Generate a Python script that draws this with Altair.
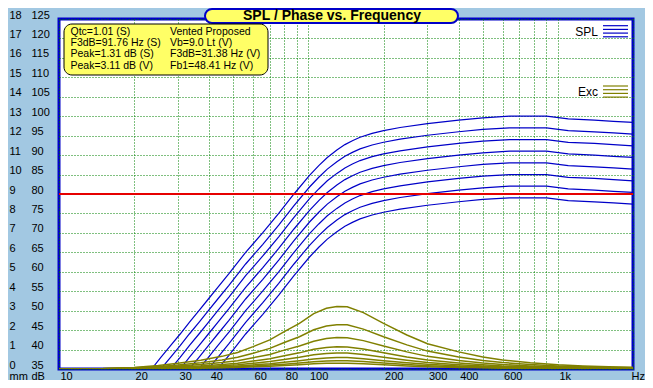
import altair as alt
import pandas as pd

# ---------------- data ----------------
SPL_FREQ = [23.5, 25.6, 28, 30.6, 33.3, 36.4, 39.7, 43.3, 48, 56, 65.5, 76, 87.5, 101, 110,
            119, 130, 140, 150, 161, 180, 200, 233, 300, 400, 500, 640, 900, 1100, 1400, 1670, 2000]
SPL_1 = [35, 38, 41, 44, 47, 50, 53, 56, 59.5, 65, 70, 75, 80, 84.8, 87.3, 89.4, 91.3, 92.7, 93.7, 94.6, 95.6, 96.3, 97.1, 98.1, 99, 99.6, 100, 100, 99.3, 99, 98.7, 98.4]
SPL_2 = [None, 35, 38, 41, 44, 47, 50, 53, 56.5, 62, 67, 72, 77, 81.8, 84.3, 86.4, 88.3, 89.7, 90.7, 91.6, 92.6, 93.3, 94.1, 95.1, 96, 96.6, 97, 97, 96.3, 96, 95.7, 95.4]
SPL_3 = [None, None, 35, 38, 41, 44, 47, 50, 53.5, 59, 64, 69, 74, 78.8, 81.3, 83.4, 85.3, 86.7, 87.7, 88.6, 89.6, 90.3, 91.1, 92.1, 93, 93.6, 94, 94, 93.3, 93, 92.7, 92.4]
SPL_4 = [None, None, None, 35, 38, 41, 44, 47, 50.5, 56, 61, 66, 71, 75.8, 78.3, 80.4, 82.3, 83.7, 84.7, 85.6, 86.6, 87.3, 88.1, 89.1, 90, 90.6, 91, 91, 90.3, 90, 89.7, 89.4]
SPL_5 = [None, None, None, None, 35, 38, 41, 44, 47.5, 53, 58, 63, 68, 72.8, 75.3, 77.4, 79.3, 80.7, 81.7, 82.6, 83.6, 84.3, 85.1, 86.1, 87, 87.6, 88, 88, 87.3, 87, 86.7, 86.4]
SPL_6 = [None, None, None, None, None, 35, 38, 41, 44.5, 50, 55, 60, 65, 69.8, 72.3, 74.4, 76.3, 77.7, 78.7, 79.6, 80.6, 81.3, 82.1, 83.1, 84, 84.6, 85, 85, 84.3, 84, 83.7, 83.4]
SPL_7 = [None, None, None, None, None, None, 35, 38, 41.5, 47, 52, 57, 62, 66.8, 69.3, 71.4, 73.3, 74.7, 75.7, 76.6, 77.6, 78.3, 79.1, 80.1, 81, 81.6, 82, 82, 81.3, 81, 80.7, 80.4]
SPL_8 = [None, None, None, None, None, None, None, 35, 38.5, 44, 49, 54, 59, 63.8, 66.3, 68.4, 70.3, 71.7, 72.7, 73.6, 74.6, 75.3, 76.1, 77.1, 78, 78.6, 79, 79, 78.3, 78, 77.7, 77.4]
SPL_CURVES = [SPL_1, SPL_2, SPL_3, SPL_4, SPL_5, SPL_6, SPL_7, SPL_8]

EXC_FREQ = [10, 15, 20, 25, 30, 37, 45, 52, 60, 70, 80, 92, 105, 118, 130, 143, 166,
            200, 248, 300, 400, 500, 600, 775, 1000, 1260, 1600, 2000]
EXC_1 = [0.0, 0.02, 0.08, 0.18, 0.30, 0.45, 0.65, 0.85, 1.15, 1.5, 1.92, 2.35, 2.85, 3.12, 3.22, 3.2, 2.9, 2.35, 1.75, 1.3, 0.88, 0.62, 0.46, 0.32, 0.22, 0.16, 0.12, 0.09]
EXC_2 = [0.0, 0.01, 0.06, 0.13, 0.21, 0.32, 0.46, 0.60, 0.81, 1.06, 1.36, 1.66, 2.02, 2.21, 2.28, 2.27, 2.05, 1.66, 1.24, 0.92, 0.62, 0.44, 0.33, 0.23, 0.16, 0.11, 0.08, 0.06]
EXC_3 = [0.0, 0.01, 0.04, 0.09, 0.15, 0.23, 0.33, 0.43, 0.58, 0.75, 0.97, 1.18, 1.43, 1.57, 1.62, 1.61, 1.46, 1.18, 0.88, 0.65, 0.44, 0.31, 0.23, 0.16, 0.11, 0.08, 0.06, 0.05]
EXC_4 = [0.0, 0.01, 0.03, 0.06, 0.11, 0.16, 0.23, 0.30, 0.41, 0.53, 0.68, 0.83, 1.01, 1.10, 1.14, 1.13, 1.03, 0.83, 0.62, 0.46, 0.31, 0.22, 0.16, 0.11, 0.08, 0.06, 0.04, 0.03]
EXC_5 = [0.0, 0.01, 0.02, 0.05, 0.08, 0.11, 0.17, 0.22, 0.29, 0.38, 0.49, 0.60, 0.73, 0.80, 0.82, 0.82, 0.74, 0.60, 0.45, 0.33, 0.22, 0.16, 0.12, 0.08, 0.06, 0.04, 0.03, 0.02]
EXC_6 = [0.0, 0.0, 0.01, 0.03, 0.05, 0.08, 0.12, 0.16, 0.21, 0.27, 0.35, 0.43, 0.52, 0.57, 0.59, 0.59, 0.53, 0.43, 0.32, 0.24, 0.16, 0.11, 0.08, 0.06, 0.04, 0.03, 0.02, 0.02]
EXC_7 = [0.0, 0.0, 0.01, 0.02, 0.04, 0.06, 0.08, 0.11, 0.15, 0.20, 0.25, 0.31, 0.37, 0.41, 0.42, 0.42, 0.38, 0.31, 0.23, 0.17, 0.11, 0.08, 0.06, 0.04, 0.03, 0.02, 0.02, 0.01]
EXC_8 = [0.0, 0.0, 0.01, 0.02, 0.03, 0.04, 0.06, 0.08, 0.11, 0.14, 0.18, 0.22, 0.27, 0.29, 0.30, 0.30, 0.27, 0.22, 0.16, 0.12, 0.08, 0.06, 0.04, 0.03, 0.02, 0.01, 0.01, 0.01]
EXC_CURVES = [EXC_1, EXC_2, EXC_3, EXC_4, EXC_5, EXC_6, EXC_7, EXC_8]

REF_LEVEL = [80]

X_GRID = [10, 20, 30, 40, 50, 60, 70, 80, 90, 100, 200, 300, 400, 500, 600, 700, 800, 900, 1000, 2000]
X_LABEL_VALUES = [10, 20, 30, 40, 60, 80, 100, 200, 300, 400, 600, 1000, 2000]
X_LABEL_TEXTS = ["10", "20", "30", "40", "60", "80", "100", "200", "300", "400", "600", "1k", "Hz"]
DB_TICKS = [35, 40, 45, 50, 55, 60, 65, 70, 75, 80, 85, 90, 95, 100, 105, 110, 115, 120, 125]
MM_TICKS = [0, 1, 2, 3, 4, 5, 6, 7, 8, 9, 10, 11, 12, 13, 14, 15, 16, 17, 18]

TITLE = "SPL / Phase vs. Frequency"
INFO_LEFT = ["Qtc=1.01 (S)", "F3dB=91.76 Hz (S)", "Peak=1.31 dB (S)", "Peak=3.11 dB (V)"]
INFO_RIGHT = ["Vented Proposed", "Vb=9.0 Lt (V)", "F3dB=31.38 Hz (V)", "Fb1=48.41 Hz (V)"]
LEGEND_NAMES = ["SPL", "Exc"]

# ---------------- styling ----------------
BG = "#A2C8E2"
BORDER = "#0000C8"
SPL_COLOR = "#0000C8"
EXC_COLOR = "#808000"
RED = "#E60000"
GRID = "#008000"
YELLOW = "#FFFF66"
FONT = "Liberation Sans"
W, H = 574, 350

# ---------------- tables ----------------
spl_rows = []
for i, vals in enumerate(SPL_CURVES):
    for f, v in zip(SPL_FREQ, vals):
        if v is not None:
            spl_rows.append({"curve": i, "freq": f, "db": v})
spl_df = pd.DataFrame(spl_rows)

exc_rows = []
for i, vals in enumerate(EXC_CURVES):
    for f, v in zip(EXC_FREQ, vals):
        exc_rows.append({"curve": i, "freq": f, "mm": v})
exc_df = pd.DataFrame(exc_rows)

ref_df = pd.DataFrame({"db": REF_LEVEL})
one = pd.DataFrame({"k": [0]})

label_expr = "''"
for v, t in reversed(list(zip(X_LABEL_VALUES, X_LABEL_TEXTS))):
    label_expr = f"datum.value == {v} ? '{t}' : ({label_expr})"

last_x = X_GRID[-1]
x_scale = alt.Scale(type="log", domain=[10, 2000], nice=False)
x_axis = alt.Axis(values=X_GRID, labelExpr=label_expr, grid=True, gridColor=GRID,
                  gridDash=[1, 2], gridWidth=1, gridOpacity=1, domain=False, ticks=False,
                  tickSize=0, labelAlign="left", labelBaseline="middle", labelPadding=7,
                  labelOffset={"condition": {"test": f"datum.value == {last_x}", "value": -2}, "value": 1},
                  labelFlush=False, labelOverlap=False, labelBound=False,
                  labelFont=FONT, labelFontSize=11, labelColor="black", title=None)

db_scale = alt.Scale(domain=[35, 125], nice=False, zero=False)
db_axis = alt.Axis(orient="left", values=DB_TICKS, grid=True, gridColor=GRID, gridDash=[1, 2],
                   gridWidth=1, gridOpacity=1, domain=False, ticks=False, tickSize=0,
                   labelAlign="left", labelBaseline="middle", labelPadding=28, labelOffset=-4,
                   labelFlush=False, labelOverlap=False, labelBound=False,
                   labelFont=FONT, labelFontSize=11, labelColor="black",
                   title="dB", titleAngle=0, titleX=-28, titleY=H + 7, titleAlign="left",
                   titleBaseline="middle", titleFont=FONT, titleFontSize=11,
                   titleFontWeight="normal", titleColor="black")

mm_scale = alt.Scale(domain=[0, 18], nice=False, zero=False)
mm_axis = alt.Axis(orient="left", values=MM_TICKS, grid=False, domain=False, ticks=False,
                   tickSize=0, labelAlign="left", labelBaseline="middle", labelPadding=50,
                   labelOffset=-4, labelFlush=False, labelOverlap=False, labelBound=False,
                   labelFont=FONT, labelFontSize=11, labelColor="black",
                   title="mm", titleAngle=0, titleX=-50, titleY=H + 7, titleAlign="left",
                   titleBaseline="middle", titleFont=FONT, titleFontSize=11,
                   titleFontWeight="normal", titleColor="black")

spl = alt.Chart(spl_df).mark_line(color=SPL_COLOR, strokeWidth=1.2, clip=True).encode(
    x=alt.X("freq:Q", scale=x_scale, axis=x_axis),
    y=alt.Y("db:Q", scale=db_scale, axis=db_axis),
    detail="curve:N",
)

exc = alt.Chart(exc_df).mark_line(color=EXC_COLOR, strokeWidth=1.5, clip=True).encode(
    x=alt.X("freq:Q", scale=x_scale, axis=x_axis),
    y=alt.Y("mm:Q", scale=mm_scale, axis=mm_axis),
    detail="curve:N",
)

ref = alt.Chart(ref_df).mark_rule(color=RED, strokeWidth=2).encode(
    y=alt.Y("db:Q", scale=db_scale, axis=None),
)

layers = [spl, exc, ref]

# title box
layers.append(alt.Chart(one).mark_rect(fill=YELLOW, stroke=BORDER, strokeWidth=2, cornerRadius=8).encode(
    x=alt.value(146), x2=alt.value(399), y=alt.value(-10), y2=alt.value(4)))
layers.append(alt.Chart(one).mark_text(font=FONT, fontSize=14, fontWeight="bold", align="center",
                                       baseline="middle", color="black").encode(
    x=alt.value(273), y=alt.value(-3), text=alt.value(TITLE)))

# info box
layers.append(alt.Chart(one).mark_rect(fill=YELLOW, stroke="black", strokeWidth=1, cornerRadius=8).encode(
    x=alt.value(5), x2=alt.value(209), y=alt.value(5), y2=alt.value(56)))
for i, t in enumerate(INFO_LEFT):
    layers.append(alt.Chart(one).mark_text(font=FONT, fontSize=10.5, align="left", baseline="middle",
                                           color="black").encode(
        x=alt.value(11.5), y=alt.value(13 + 11.2 * i), text=alt.value(t)))
for i, t in enumerate(INFO_RIGHT):
    layers.append(alt.Chart(one).mark_text(font=FONT, fontSize=10.5, align="left", baseline="middle",
                                           color="black").encode(
        x=alt.value(111), y=alt.value(13 + 11.2 * i), text=alt.value(t)))

# legend entries
for name, color, ty, ly in [(LEGEND_NAMES[0], SPL_COLOR, 12.5, 6.7), (LEGEND_NAMES[1], EXC_COLOR, 72.5, 67)]:
    layers.append(alt.Chart(one).mark_text(font=FONT, fontSize=12, align="right", baseline="middle",
                                           color="black").encode(
        x=alt.value(539), y=alt.value(ty), text=alt.value(name)))
    for j in range(4):
        layers.append(alt.Chart(one).mark_rule(color=color, strokeWidth=1.2).encode(
            x=alt.value(544), x2=alt.value(569), y=alt.value(ly + 3.7 * j)))

chart = alt.layer(*layers).resolve_scale(y="independent").properties(
    width=W, height=H,
    padding={"left": 51, "top": 11, "right": 12, "bottom": 11},
    autosize=alt.AutoSizeParams(type="none"),
).configure(background=BG).configure_view(fill="white", stroke=BORDER, strokeWidth=3)

chart.save("out.html", embed_options={"renderer": "svg", "actions": False})
